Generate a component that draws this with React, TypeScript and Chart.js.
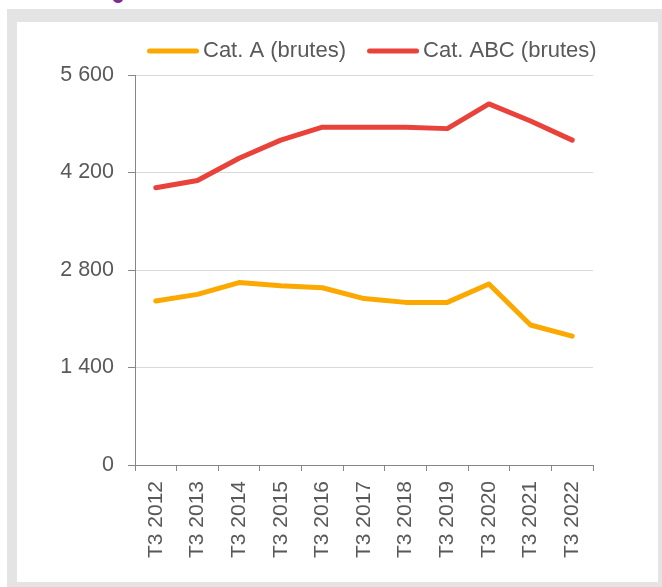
import React, { useEffect, useRef } from "react";
import { Chart, registerables } from "chart.js";

Chart.register(...registerables);

const categories = [
  "T3 2012", "T3 2013", "T3 2014", "T3 2015", "T3 2016", "T3 2017",
  "T3 2018", "T3 2019", "T3 2020", "T3 2021", "T3 2022",
];
const catA = [2355, 2450, 2620, 2575, 2545, 2390, 2335, 2335, 2600, 2010, 1850];
const catABC = [3980, 4085, 4405, 4665, 4850, 4850, 4850, 4830, 5185, 4940, 4665];
const seriesNames = ["Cat. A (brutes)", "Cat. ABC (brutes)"];
const seriesColors = ["#FBA900", "#E8423B"];
const yMin = 0;
const yMax = 5600;
const yStep = 1400;

const FONT = "'Liberation Sans', Arial, sans-serif";
const TEXT = "#595959";
const AXIS = "#868686";

const fmt = (v: number) => String(v).replace(/\B(?=(\d{3})+(?!\d))/g, " ");

const legendPlugin = {
  id: "customLegend",
  afterDraw(chart: any) {
    const { ctx, chartArea } = chart;
    ctx.save();
    ctx.font = `22px ${FONT}`;
    ctx.textBaseline = "middle";
    ctx.textAlign = "left";
    const y = chartArea.top - 24;
    let x = chartArea.left + 12;
    chart.data.datasets.forEach((ds: any) => {
      ctx.strokeStyle = ds.borderColor;
      ctx.lineWidth = 5;
      ctx.lineCap = "round";
      ctx.beginPath();
      ctx.moveTo(x + 2.5, y);
      ctx.lineTo(x + 49.5, y);
      ctx.stroke();
      x += 56;
      ctx.fillStyle = TEXT;
      ctx.fillText(ds.label, x, y);
      x += ctx.measureText(ds.label).width + 21;
    });
    ctx.restore();
  },
};

export default function App() {
  const ref = useRef<HTMLCanvasElement>(null);
  useEffect(() => {
    if (!ref.current) return;
    const chart = new Chart(ref.current, {
      type: "line",
      data: {
        labels: categories,
        datasets: [
          {
            label: seriesNames[0],
            data: catA,
            borderColor: seriesColors[0],
            backgroundColor: seriesColors[0],
            borderWidth: 5,
            pointRadius: 0,
            tension: 0,
            borderJoinStyle: "round",
            borderCapStyle: "round",
          },
          {
            label: seriesNames[1],
            data: catABC,
            borderColor: seriesColors[1],
            backgroundColor: seriesColors[1],
            borderWidth: 5,
            pointRadius: 0,
            tension: 0,
            borderJoinStyle: "round",
            borderCapStyle: "round",
          },
        ],
      },
      options: {
        responsive: false,
        animation: false,
        layout: { padding: { top: 53, right: 65, bottom: 0, left: 0 } },
        plugins: {
          legend: { display: false },
          tooltip: { enabled: false },
        },
        scales: {
          x: {
            offset: true,
            grid: {
              offset: true,
              drawOnChartArea: false,
              drawTicks: true,
              tickLength: 6,
              tickColor: AXIS,
            },
            border: { color: AXIS, width: 1 },
            ticks: {
              color: TEXT,
              font: { family: FONT, size: 21 },
              minRotation: 90,
              maxRotation: 90,
              padding: 10,
              autoSkip: false,
            },
            afterFit: (s: any) => {
              s.height = 117;
            },
          },
          y: {
            min: yMin,
            max: yMax,
            grid: {
              color: "#d9d9d9",
              tickColor: AXIS,
              tickLength: 7,
              lineWidth: 1,
            },
            border: { color: AXIS, width: 1 },
            ticks: {
              stepSize: yStep,
              color: TEXT,
              font: { family: FONT, size: 21.5 },
              padding: 14,
              callback: (v: any) => fmt(Number(v)),
            },
            afterFit: (s: any) => {
              s.width = 118;
            },
          },
        },
      },
      plugins: [legendPlugin],
    });
    return () => chart.destroy();
  }, []);

  return (
    <div style={{ position: "absolute", left: 0, top: 0, width: 662, height: 587, overflow: "hidden", background: "#fff" }}>
      <div
        style={{
          position: "absolute",
          left: 113,
          top: -5,
          width: 10,
          height: 8,
          borderRadius: "50%",
          background: "#7B2D8E",
        }}
      />
      <div style={{ position: "absolute", left: 7, top: 9, width: 655, height: 578, background: "#e4e4e4" }} />
      <div style={{ position: "absolute", left: 17, top: 22, width: 641, height: 560, background: "#ffffff" }}>
        <canvas ref={ref} width={641} height={560} style={{ display: "block" }} />
      </div>
    </div>
  );
}
